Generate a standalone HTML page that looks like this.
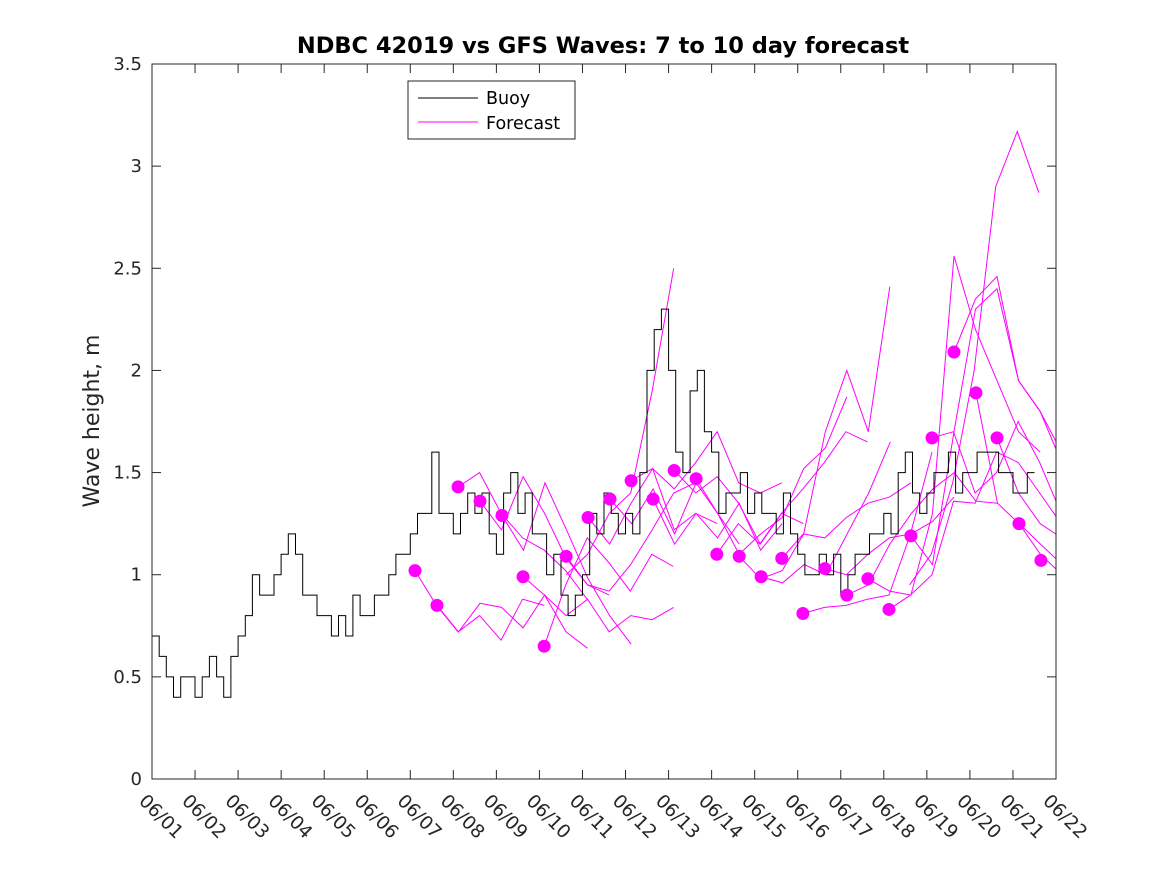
<!DOCTYPE html>
<html><head><meta charset="utf-8"><style>
body{margin:0;background:#fff}
svg{display:block;font-family:"DejaVu Sans","Liberation Sans",sans-serif}
</style></head><body>
<svg id="chart" width="1167" height="875" viewBox="0 0 1167 875">
<rect width="1167" height="875" fill="#fff"/>
<text x="603" y="53" text-anchor="middle" font-size="22.5" font-weight="bold" fill="#000">NDBC 42019 vs GFS Waves: 7 to 10 day forecast</text>
<text transform="translate(99,421) rotate(-90)" text-anchor="middle" font-size="22" fill="#262626">Wave height, m</text>
<g id="plot"></g>
<rect x="152" y="64" width="904" height="715" fill="none" stroke="#262626" stroke-width="1"/>
<g id="ticks"></g>
<g>
<rect x="408" y="81" width="167" height="58" fill="#fff" stroke="#262626"/>
<line x1="418" y1="98" x2="478" y2="98" stroke="#000"/>
<text x="486" y="104" font-size="17.5" fill="#000">Buoy</text>
<line x1="418" y1="122" x2="478" y2="122" stroke="#f0f"/>
<text x="486" y="129" font-size="17.5" fill="#000">Forecast</text>
</g>
</svg>
<script>
const xTickLabels=["06/01","06/02","06/03","06/04","06/05","06/06","06/07","06/08","06/09","06/10","06/11","06/12","06/13","06/14","06/15","06/16","06/17","06/18","06/19","06/20","06/21","06/22"];
const yTicks=[0,0.5,1,1.5,2,2.5,3,3.5];
const yTickLabels=["0","0.5","1","1.5","2","2.5","3","3.5"];
const buoyStepHours=4;
const buoyValues=[
0.7,0.6,0.5,0.4,0.5,0.5,
0.4,0.5,0.6,0.5,0.4,0.6,
0.7,0.8,1.0,0.9,0.9,1.0,
1.1,1.2,1.1,0.9,0.9,0.8,
0.8,0.7,0.8,0.7,0.9,0.8,
0.8,0.9,0.9,1.0,1.1,1.1,
1.2,1.3,1.3,1.6,1.3,1.3,
1.2,1.3,1.4,1.3,1.4,1.2,
1.1,1.4,1.5,1.3,1.4,1.2,
1.2,1.0,1.1,0.9,0.8,0.9,
1.0,1.3,1.2,1.4,1.3,1.2,
1.3,1.2,1.5,2.0,2.2,2.3,
2.0,1.6,1.5,1.9,2.0,1.7,
1.6,1.3,1.4,1.4,1.5,1.3,
1.4,1.3,1.3,1.2,1.4,1.2,
1.1,1.0,1.0,1.1,1.0,1.1,
0.9,1.0,1.1,1.1,1.2,1.2,
1.3,1.2,1.5,1.6,1.4,1.3,
1.4,1.5,1.5,1.6,1.4,1.5,
1.5,1.6,1.6,1.6,1.5,1.5,
1.4,1.4,1.5];
const dotDays=[6.11,6.62,7.11,7.62,8.13,8.62,9.11,9.62,10.13,10.64,11.13,11.64,12.13,12.64,13.12,13.64,14.15,14.63,15.12,15.63,16.14,16.63,17.12,17.63,18.12,18.63,19.14,19.63,20.14,20.65];
const dotValues=[1.02,0.85,1.43,1.36,1.29,0.99,0.65,1.09,1.28,1.37,1.46,1.37,1.51,1.47,1.10,1.09,0.99,1.08,0.81,1.03,0.90,0.98,0.83,1.19,1.67,2.09,1.89,1.67,1.25,1.07];
const fcStepDays=0.5;
const fcStarts=[6.11,6.62,7.11,7.62,8.13,8.62,9.11,9.62,9.62,10.13,10.64,11.13,11.64,12.13,12.64,13.12,13.64,14.15,14.63,15.12,15.63,16.14,16.63,17.12,17.63,18.12,18.63,17.6,19.14,19.63,20.14];
const fcValues=[
[1.02,0.85,0.72,0.80,0.68,0.88,0.85],
[0.85,0.72,0.86,0.84,0.74,0.90,0.72,0.64],
[1.43,1.50,1.30,1.18,1.12,1.02,0.88],
[1.36,1.22,1.48,1.30,1.08,0.95,0.90],
[1.29,1.12,1.45,1.22,0.98,0.80,0.66],
[0.99,0.90,0.80,0.88,0.72,0.80,0.78,0.84],
[0.65,0.95,1.18,1.06,0.92,1.10,1.04],
[1.09,0.95,0.92,1.05,1.22,1.40,1.45],
[1.00,1.10,1.30,1.40,1.90,2.50],
[1.28,1.15,1.35,1.52,1.22,1.30,1.25],
[1.37,1.25,1.42,1.20,1.45,1.30,1.15],
[1.46,1.52,1.42,1.55,1.70,1.45,1.40,1.45],
[1.37,1.15,1.30,1.18,1.35,1.12,1.25],
[1.51,1.40,1.48,1.35,1.15,1.30,1.25],
[1.47,1.30,1.10,1.20,1.28,1.52,1.62,1.87],
[1.10,1.25,1.15,1.30,1.42,1.55,1.70,1.65],
[1.09,0.98,1.02,1.20,1.70,2.00,1.70,2.41],
[0.99,0.96,1.05,1.00,1.20,1.40,1.65],
[1.08,1.20,1.18,1.28,1.35,1.38,1.45],
[0.81,0.84,0.85,0.88,0.90,1.20,1.60],
[1.03,1.00,1.10,1.18,1.20,1.26,1.38],
[0.90,0.95,1.15,1.30,1.42,1.50,1.36,1.35],
[0.98,0.92,0.90,1.30,2.56,2.20,1.95,1.70,1.60],
[0.83,0.90,1.00,1.36,1.35,1.60,1.55,1.40,1.25,1.20],
[1.19,1.05,1.70,2.30,2.40,1.95,1.80,1.60],
[1.67,1.70,1.40,1.50,1.75,1.55,1.30,1.20],
[2.09,2.35,2.46,1.95,1.80,1.55],
[0.95,1.10,1.45,2.00,2.90,3.17,2.87],
[1.89,1.35,1.25,1.10,1.00,0.96],
[1.67,1.40,1.25,1.18,1.10],
[1.25,1.15,1.05,0.97]];

const X0=152,X1=1056,Y0=779,Y1=64,NS="http://www.w3.org/2000/svg";
function xs(d){return X0+(X1-X0)*d/21;}
function ys(v){return Y0-(Y0-Y1)*v/3.5;}
const plot=document.getElementById('plot');
const ticks=document.getElementById('ticks');
function mk(tag,attrs,parent){const e=document.createElementNS(NS,tag);for(const k in attrs)e.setAttribute(k,attrs[k]);parent.appendChild(e);return e;}

const cp=mk('clipPath',{id:'clip'},plot);mk('rect',{x:X0,y:Y1,width:X1-X0,height:Y0-Y1},cp);
const g=mk('g',{'clip-path':'url(#clip)'},plot);

fcValues.forEach((vals,i)=>{
  const pts=vals.map((v,j)=>xs(fcStarts[i]+j*fcStepDays).toFixed(1)+','+ys(v).toFixed(1)).join(' ');
  const pl=mk('polyline',{points:pts,fill:'none',stroke:'#ff00ff','stroke-width':1},g);
  
  
});
let d='';
buoyValues.forEach((v,i)=>{
  const xa=xs(i*buoyStepHours/24),xb=xs((i+1)*buoyStepHours/24);
  d+=(i===0?'M':'L')+xa.toFixed(1)+','+ys(v).toFixed(1)+'L'+xb.toFixed(1)+','+ys(v).toFixed(1);
});
const bl=mk('path',{d:d,fill:'none',stroke:'#000','stroke-width':1},g);


dotDays.forEach((dd,i)=>{
  const c=mk('circle',{cx:xs(dd),cy:ys(dotValues[i]),r:6.5,fill:'#ff00ff'},g);
  
  
});
xTickLabels.forEach((lab,i)=>{
  const x=xs(i);
  mk('line',{x1:x,y1:Y0,x2:x,y2:Y0-9,stroke:'#262626'},ticks);
  mk('line',{x1:x,y1:Y1,x2:x,y2:Y1+9,stroke:'#262626'},ticks);
  const t=mk('text',{x:0,y:0,'font-size':18.5,fill:'#262626',transform:'translate('+(x-14)+',802) rotate(45)'},ticks);
  t.textContent=lab;
  
  
});
yTicks.forEach((v,i)=>{
  const y=ys(v);
  mk('line',{x1:X0,y1:y,x2:X0+9,y2:y,stroke:'#262626'},ticks);
  mk('line',{x1:X1,y1:y,x2:X1-9,y2:y,stroke:'#262626'},ticks);
  const t=mk('text',{x:X0-10,y:y+6,'font-size':18,fill:'#262626','text-anchor':'end'},ticks);
  t.textContent=yTickLabels[i];
  
  
});
</script>
</body></html>
